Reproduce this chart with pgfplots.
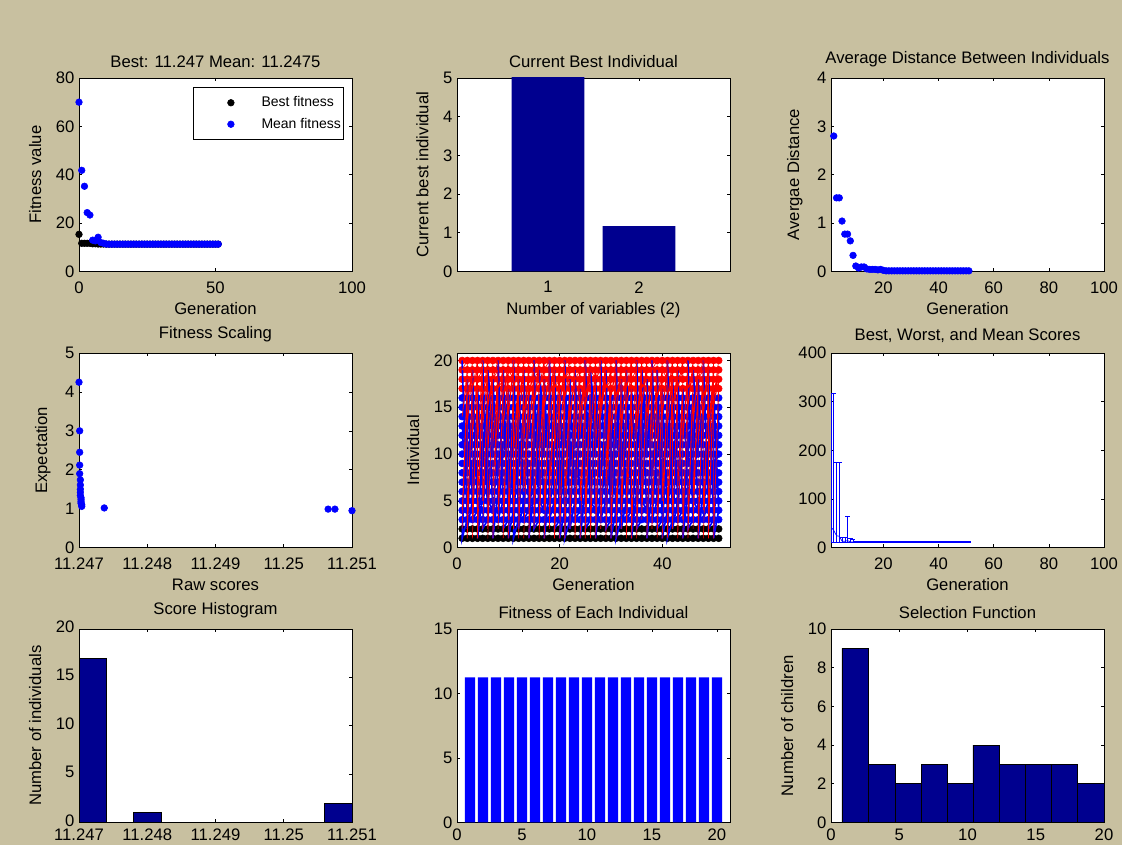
\documentclass[border=0pt]{standalone}
\usepackage{pgfplots}
\usepackage{pgfplotstable}
\pgfplotsset{compat=1.18}
\usepackage{fontspec}
\setmainfont{Liberation Sans}
\definecolor{bg}{RGB}{200,192,160}
\definecolor{navy}{RGB}{0,0,143}
\definecolor{mblue}{RGB}{0,0,255}
\definecolor{mred}{RGB}{255,0,0}
\newcommand{\fs}{\fontsize{12.5}{14.5}\selectfont}
\pgfplotsset{mat/.style={scale only axis, width=204.75pt, height=145pt, anchor=north west,
 axis background/.style={fill=white}, tick align=inside, major tick length=2.5pt, tick pos=both,
 axis line style={black,line width=0.6pt}, every tick/.style={black,line width=0.5pt},
 tick label style={font=\fs}, label style={font=\fs}, title style={font=\fs, yshift=-1.5pt},
 xlabel style={yshift=0pt}, ylabel style={yshift=4pt},
 /pgf/number format/assume math mode=true, scaled ticks=false},
 uprow/.style={xticklabel style={yshift=-4pt}},
 lowrow/.style={xticklabel style={yshift=-1.5pt}},
 dotlegend/.style={legend image code/.code={\path (-27.75pt,0pt) (20.75pt,0pt); \draw[##1] plot coordinates {(0pt,0pt)};}}}

\pgfplotstableread{
g r1 r2 r3 r4 r5 r6 r7 r8 r9 r10 r11 r12 r13 r14 r15 r16 r17 r18 r19 r20
1 1 2 3 4 5 6 7 8 9 10 11 12 13 14 15 16 17 18 19 20
2 1 2 3 4 5 6 7 8 9 10 11 12 13 14 15 16 17 18 19 20
3 1 2 3 4 5 6 7 8 9 10 11 12 13 14 15 16 17 18 19 20
4 1 2 3 4 5 6 7 8 9 10 11 12 13 14 15 16 17 18 19 20
5 1 2 3 4 5 6 7 8 9 10 11 12 13 14 15 16 17 18 19 20
6 1 2 3 4 5 6 7 8 9 10 11 12 13 14 15 16 17 18 19 20
7 1 2 3 4 5 6 7 8 9 10 11 12 13 14 15 16 17 18 19 20
8 1 2 3 4 5 6 7 8 9 10 11 12 13 14 15 16 17 18 19 20
9 1 2 3 4 5 6 7 8 9 10 11 12 13 14 15 16 17 18 19 20
10 1 2 3 4 5 6 7 8 9 10 11 12 13 14 15 16 17 18 19 20
11 1 2 3 4 5 6 7 8 9 10 11 12 13 14 15 16 17 18 19 20
12 1 2 3 4 5 6 7 8 9 10 11 12 13 14 15 16 17 18 19 20
13 1 2 3 4 5 6 7 8 9 10 11 12 13 14 15 16 17 18 19 20
14 1 2 3 4 5 6 7 8 9 10 11 12 13 14 15 16 17 18 19 20
15 1 2 3 4 5 6 7 8 9 10 11 12 13 14 15 16 17 18 19 20
16 1 2 3 4 5 6 7 8 9 10 11 12 13 14 15 16 17 18 19 20
17 1 2 3 4 5 6 7 8 9 10 11 12 13 14 15 16 17 18 19 20
18 1 2 3 4 5 6 7 8 9 10 11 12 13 14 15 16 17 18 19 20
19 1 2 3 4 5 6 7 8 9 10 11 12 13 14 15 16 17 18 19 20
20 1 2 3 4 5 6 7 8 9 10 11 12 13 14 15 16 17 18 19 20
21 1 2 3 4 5 6 7 8 9 10 11 12 13 14 15 16 17 18 19 20
22 1 2 3 4 5 6 7 8 9 10 11 12 13 14 15 16 17 18 19 20
23 1 2 3 4 5 6 7 8 9 10 11 12 13 14 15 16 17 18 19 20
24 1 2 3 4 5 6 7 8 9 10 11 12 13 14 15 16 17 18 19 20
25 1 2 3 4 5 6 7 8 9 10 11 12 13 14 15 16 17 18 19 20
26 1 2 3 4 5 6 7 8 9 10 11 12 13 14 15 16 17 18 19 20
27 1 2 3 4 5 6 7 8 9 10 11 12 13 14 15 16 17 18 19 20
28 1 2 3 4 5 6 7 8 9 10 11 12 13 14 15 16 17 18 19 20
29 1 2 3 4 5 6 7 8 9 10 11 12 13 14 15 16 17 18 19 20
30 1 2 3 4 5 6 7 8 9 10 11 12 13 14 15 16 17 18 19 20
31 1 2 3 4 5 6 7 8 9 10 11 12 13 14 15 16 17 18 19 20
32 1 2 3 4 5 6 7 8 9 10 11 12 13 14 15 16 17 18 19 20
33 1 2 3 4 5 6 7 8 9 10 11 12 13 14 15 16 17 18 19 20
34 1 2 3 4 5 6 7 8 9 10 11 12 13 14 15 16 17 18 19 20
35 1 2 3 4 5 6 7 8 9 10 11 12 13 14 15 16 17 18 19 20
36 1 2 3 4 5 6 7 8 9 10 11 12 13 14 15 16 17 18 19 20
37 1 2 3 4 5 6 7 8 9 10 11 12 13 14 15 16 17 18 19 20
38 1 2 3 4 5 6 7 8 9 10 11 12 13 14 15 16 17 18 19 20
39 1 2 3 4 5 6 7 8 9 10 11 12 13 14 15 16 17 18 19 20
40 1 2 3 4 5 6 7 8 9 10 11 12 13 14 15 16 17 18 19 20
41 1 2 3 4 5 6 7 8 9 10 11 12 13 14 15 16 17 18 19 20
42 1 2 3 4 5 6 7 8 9 10 11 12 13 14 15 16 17 18 19 20
43 1 2 3 4 5 6 7 8 9 10 11 12 13 14 15 16 17 18 19 20
44 1 2 3 4 5 6 7 8 9 10 11 12 13 14 15 16 17 18 19 20
45 1 2 3 4 5 6 7 8 9 10 11 12 13 14 15 16 17 18 19 20
46 1 2 3 4 5 6 7 8 9 10 11 12 13 14 15 16 17 18 19 20
47 1 2 3 4 5 6 7 8 9 10 11 12 13 14 15 16 17 18 19 20
48 1 2 3 4 5 6 7 8 9 10 11 12 13 14 15 16 17 18 19 20
49 1 2 3 4 5 6 7 8 9 10 11 12 13 14 15 16 17 18 19 20
50 1 2 3 4 5 6 7 8 9 10 11 12 13 14 15 16 17 18 19 20
51 1 2 3 4 5 6 7 8 9 10 11 12 13 14 15 16 17 18 19 20
}\gengrid

\begin{document}
\begin{tikzpicture}
\fill[bg] (0,0) rectangle (841.5pt,-633.75pt);

% ---------- Panel 1 ----------
\begin{axis}[mat, uprow, at={(59.25pt,-58.5pt)}, xmin=0, xmax=100, ymin=0, ymax=80,
  xtick={0,50,100}, ytick={0,20,40,60,80},
  title={Best: 11.247 Mean: 11.2475}, xlabel={Generation}, ylabel={Fitness value},
  legend style={at={(0.97,0.953)}, anchor=north east, font=\fontsize{10.5}{12}\selectfont,
    draw=black, fill=white, inner xsep=0pt, inner ysep=5pt, row sep=3pt, cells={anchor=west}}]
\addplot[only marks, mark=*, mark size=2.5pt, black, dotlegend]
 coordinates {(0,15.3) (1,11.6) (2,11.6) (3,11.6) (4,11.6) (5,11.4) (6,11.4) (7,11.3) (8,11.3) (9,11.3)
 (10,11.25) (11,11.25) (12,11.25) (13,11.25) (14,11.25) (15,11.25) (16,11.25) (17,11.25) (18,11.25) (19,11.25)
 (20,11.25) (21,11.25) (22,11.25) (23,11.25) (24,11.25) (25,11.25) (26,11.25) (27,11.25) (28,11.25) (29,11.25)
 (30,11.25) (31,11.25) (32,11.25) (33,11.25) (34,11.25) (35,11.25) (36,11.25) (37,11.25) (38,11.25) (39,11.25)
 (40,11.25) (41,11.25) (42,11.25) (43,11.25) (44,11.25) (45,11.25) (46,11.25) (47,11.25) (48,11.25) (49,11.25)
 (50,11.25) (51,11.25)};
\addlegendentry{Best fitness}
\addplot[only marks, mark=*, mark size=2.5pt, mblue, dotlegend]
 coordinates {(0,70) (1,41.8) (2,35.2) (3,24.3) (4,23.3) (5,12.9) (6,12.6) (7,14.1) (8,11.9) (9,11.6)
 (10,11.3) (11,11.25) (12,11.25) (13,11.25) (14,11.25) (15,11.25) (16,11.25) (17,11.25) (18,11.25) (19,11.25)
 (20,11.25) (21,11.25) (22,11.25) (23,11.25) (24,11.25) (25,11.25) (26,11.25) (27,11.25) (28,11.25) (29,11.25)
 (30,11.25) (31,11.25) (32,11.25) (33,11.25) (34,11.25) (35,11.25) (36,11.25) (37,11.25) (38,11.25) (39,11.25)
 (40,11.25) (41,11.25) (42,11.25) (43,11.25) (44,11.25) (45,11.25) (46,11.25) (47,11.25) (48,11.25) (49,11.25)
 (50,11.25) (51,11.25)};
\addlegendentry{Mean fitness}
\end{axis}

% ---------- Panel 2 ----------
\begin{axis}[mat, uprow, at={(342.75pt,-58.5pt)}, xmin=0, xmax=3, ymin=0, ymax=5,
  xtick={1,2}, ytick={0,1,2,3,4,5},
  title={Current Best Individual}, xlabel={Number of variables (2)}, ylabel={Current best individual}]
\addplot[ybar, bar width=0.8, fill=navy, draw=none] coordinates {(1,5.4) (2,1.17)};
\end{axis}

% ---------- Panel 3 ----------
\begin{axis}[mat, uprow, at={(623.25pt,-58.5pt)}, xmin=1, xmax=100, ymin=0, ymax=4,
  xtick={20,40,60,80,100}, ytick={0,1,2,3,4},
  title={Average Distance Between Individuals}, xlabel={Generation}, ylabel={Avergae Distance}]
\addplot[only marks, mark=*, mark size=2.5pt, mblue] coordinates {
 (2,2.8) (3,1.52) (4,1.52) (5,1.04) (6,0.77) (7,0.77) (8,0.63) (9,0.33) (10,0.11)
 (11,0.07) (12,0.09) (13,0.09) (14,0.05) (15,0.04) (16,0.04) (17,0.04) (18,0.03) (19,0.04) (20,0.02)
 (21,0.01) (22,0.01) (23,0.01) (24,0.01) (25,0.01) (26,0.01) (27,0.01) (28,0.01) (29,0.01) (30,0.01)
 (31,0.01) (32,0.01) (33,0.01) (34,0.01) (35,0.01) (36,0.01) (37,0.01) (38,0.01) (39,0.01) (40,0.01)
 (41,0.01) (42,0.01) (43,0.01) (44,0.01) (45,0.01) (46,0.01) (47,0.01) (48,0.01) (49,0.01) (50,0.01) (51,0.01)};
\end{axis}

% ---------- Panel 4 ----------
\begin{axis}[mat, uprow, at={(59.25pt,-264.75pt)}, height=146pt, xmin=11.247, xmax=11.251, ymin=0, ymax=5,
  xtick={11.247,11.248,11.249,11.25,11.251}, xticklabels={11.247,11.248,11.249,11.25,11.251},
  ytick={0,1,2,3,4,5},
  title={Fitness Scaling}, xlabel={Raw scores}, ylabel={Expectation}]
\addplot[only marks, mark=*, mark size=2.5pt, mblue] coordinates {
 (11.24700,4.25) (11.24701,3.0) (11.24701,2.45) (11.24701,2.12) (11.24701,1.9) (11.24702,1.74)
 (11.24702,1.61) (11.24702,1.5) (11.24702,1.42) (11.24702,1.34) (11.24703,1.28) (11.24703,1.23)
 (11.24703,1.18) (11.24703,1.14) (11.24704,1.10) (11.24704,1.06) (11.24737,1.02)
 (11.25065,0.99) (11.25075,0.99) (11.25100,0.95)};
\end{axis}

% ---------- Panel 5 ----------
\begin{axis}[mat, uprow, at={(342.75pt,-264.75pt)}, height=146pt, xmin=0, xmax=53.2, ymin=0, ymax=20.8,
  xtick={0,20,40}, ytick={0,5,10,15,20}, clip marker paths=true,
  xlabel={Generation}, ylabel={Individual}]
\pgfplotsinvokeforeach{1,2}{\addplot[only marks, mark=*, mark size=2.6pt, black] table[x=g,y=r#1]{\gengrid};}
\pgfplotsinvokeforeach{3,...,16}{\addplot[only marks, mark=*, mark size=2.6pt, mblue] table[x=g,y=r#1]{\gengrid};}
\pgfplotsinvokeforeach{17,...,20}{\addplot[only marks, mark=*, mark size=2.6pt, mred] table[x=g,y=r#1]{\gengrid};}
\addplot[mblue, line width=1.2pt, mark=none] coordinates {
(1,20)(2,3)(1,1)(2,16)(1,12)(2,8) (2,18)(3,5)(2,2)(3,14)(2,9)(3,11) (3,19)(4,4)(3,3)(4,15)(3,7)(4,13)
(4,17)(5,6)(4,1)(5,12)(4,14)(5,9) (5,20)(6,3)(5,2)(6,16)(5,10)(6,7) (6,16)(7,4)(6,5)(7,13)(6,19)(7,10)
(7,18)(8,6)(7,1)(8,15)(7,11)(8,12) (8,20)(9,5)(8,3)(9,11)(8,8)(9,14) (9,19)(10,3)(9,2)(10,16)(9,13)(10,6)
(10,17)(11,4)(10,1)(11,14)(10,6)(11,15) (11,20)(12,3)(11,1)(12,16)(11,12)(12,8) (12,18)(13,5)(12,2)(13,14)(12,9)(13,11)
(13,19)(14,4)(13,3)(14,15)(13,7)(14,13) (14,17)(15,6)(14,1)(15,12)(14,14)(15,9) (15,20)(16,3)(15,2)(16,16)(15,10)(16,7)
(16,16)(17,4)(16,5)(17,13)(16,19)(17,10) (17,18)(18,6)(17,1)(18,15)(17,11)(18,12) (18,20)(19,5)(18,3)(19,11)(18,8)(19,14)
(19,19)(20,3)(19,2)(20,16)(19,13)(20,6) (20,17)(21,4)(20,1)(21,14)(20,6)(21,15) (21,20)(22,3)(21,1)(22,16)(21,12)(22,8)
(22,18)(23,5)(22,2)(23,14)(22,9)(23,11) (23,19)(24,4)(23,3)(24,15)(23,7)(24,13) (24,17)(25,6)(24,1)(25,12)(24,14)(25,9)
(25,20)(26,3)(25,2)(26,16)(25,10)(26,7) (26,16)(27,4)(26,5)(27,13)(26,19)(27,10) (27,18)(28,6)(27,1)(28,15)(27,11)(28,12)
(28,20)(29,5)(28,3)(29,11)(28,8)(29,14) (29,19)(30,3)(29,2)(30,16)(29,13)(30,6) (30,17)(31,4)(30,1)(31,14)(30,6)(31,15)
(31,20)(32,3)(31,1)(32,16)(31,12)(32,8) (32,18)(33,5)(32,2)(33,14)(32,9)(33,11) (33,19)(34,4)(33,3)(34,15)(33,7)(34,13)
(34,17)(35,6)(34,1)(35,12)(34,14)(35,9) (35,20)(36,3)(35,2)(36,16)(35,10)(36,7) (36,16)(37,4)(36,5)(37,13)(36,19)(37,10)
(37,18)(38,6)(37,1)(38,15)(37,11)(38,12) (38,20)(39,5)(38,3)(39,11)(38,8)(39,14) (39,19)(40,3)(39,2)(40,16)(39,13)(40,6)
(40,17)(41,4)(40,1)(41,14)(40,6)(41,15) (41,20)(42,3)(41,1)(42,16)(41,12)(42,8) (42,18)(43,5)(42,2)(43,14)(42,9)(43,11)
(43,19)(44,4)(43,3)(44,15)(43,7)(44,13) (44,17)(45,6)(44,1)(45,12)(44,14)(45,9) (45,20)(46,3)(45,2)(46,16)(45,10)(46,7)
(46,16)(47,4)(46,5)(47,13)(46,19)(47,10) (47,18)(48,6)(47,1)(48,15)(47,11)(48,12) (48,20)(49,5)(48,3)(49,11)(48,8)(49,14)
(49,19)(50,3)(49,2)(50,16)(49,13)(50,6) (50,17)(51,4)(50,1)(51,14)(50,6)(51,15)};
\addplot[mred, line width=0.45pt, mark=none] coordinates {
(1,2)(2,17)(1,4)(2,18)(1,14)(2,19)(1,19)(2,20) (2,1)(3,17)(2,3)(3,18)(2,16)(3,19)(2,13)(3,20)
(3,3)(4,17)(3,1)(4,18)(3,12)(4,19)(3,17)(4,20) (4,1)(5,17)(4,5)(5,18)(4,18)(5,19)(4,11)(5,20)
(5,5)(6,17)(5,2)(6,18)(5,13)(6,19)(5,16)(6,20) (6,2)(7,17)(6,1)(7,18)(6,15)(7,19)(6,10)(7,20)
(7,1)(8,17)(7,6)(8,18)(7,11)(8,19)(7,18)(8,20) (8,4)(9,17)(8,2)(9,18)(8,17)(9,19)(8,12)(9,20)
(9,1)(10,17)(9,3)(10,18)(9,13)(10,19)(9,16)(10,20) (10,3)(11,17)(10,1)(11,18)(10,19)(11,19)(10,14)(11,20)
(11,2)(12,17)(11,5)(12,18)(11,10)(12,19)(11,17)(12,20) (12,1)(13,17)(12,2)(13,18)(12,16)(13,19)(12,13)(13,20)
(13,6)(14,17)(13,1)(14,18)(13,14)(14,19)(13,11)(14,20) (14,1)(15,17)(14,4)(15,18)(14,12)(15,19)(14,16)(15,20)
(15,2)(16,17)(15,3)(16,18)(15,18)(16,19)(15,15)(16,20) (16,1)(17,17)(16,2)(17,18)(16,9)(17,19)(16,17)(17,20)
(17,4)(18,17)(17,1)(18,18)(17,15)(18,19)(17,19)(18,20) (18,2)(19,17)(18,6)(19,18)(18,13)(19,19)(18,16)(19,20)
(19,1)(20,17)(19,2)(20,18)(19,17)(20,19)(19,10)(20,20) (20,3)(21,17)(20,1)(21,18)(20,11)(21,19)(20,15)(21,20)
(21,1)(22,17)(21,5)(22,18)(21,16)(22,19)(21,18)(22,20) (22,2)(23,17)(22,3)(23,18)(22,14)(23,19)(22,13)(23,20)
(23,1)(24,17)(23,2)(24,18)(23,18)(24,19)(23,11)(24,20) (24,5)(25,17)(24,1)(25,18)(24,12)(25,19)(24,14)(25,20)
(25,1)(26,17)(25,4)(26,18)(25,15)(26,19)(25,16)(26,20) (26,2)(27,17)(26,1)(27,18)(26,19)(27,19)(26,12)(27,20)
(27,1)(28,17)(27,3)(28,18)(27,11)(28,19)(27,18)(28,20) (28,3)(29,17)(28,2)(29,18)(28,14)(29,19)(28,15)(29,20)
(29,1)(30,17)(29,6)(30,18)(29,17)(30,19)(29,8)(30,20) (30,2)(31,17)(30,1)(31,18)(30,12)(31,19)(30,16)(31,20)
(31,1)(32,17)(31,3)(32,18)(31,16)(32,19)(31,14)(32,20) (32,4)(33,17)(32,2)(33,18)(32,13)(33,19)(32,12)(33,20)
(33,1)(34,17)(33,5)(34,18)(33,15)(34,19)(33,17)(34,20) (34,2)(35,17)(34,1)(35,18)(34,18)(35,19)(34,11)(35,20)
(35,1)(36,17)(35,2)(36,18)(35,12)(36,19)(35,13)(36,20) (36,3)(37,17)(36,4)(37,18)(36,17)(37,19)(36,15)(37,20)
(37,1)(38,17)(37,1)(38,18)(37,14)(38,19)(37,12)(38,20) (38,2)(39,17)(38,3)(39,18)(38,11)(39,19)(38,19)(39,20)
(39,1)(40,17)(39,2)(40,18)(39,16)(40,19)(39,10)(40,20) (40,5)(41,17)(40,1)(41,18)(40,19)(41,19)(40,14)(41,20)
(41,1)(42,17)(41,4)(42,18)(41,13)(42,19)(41,16)(42,20) (42,2)(43,17)(42,2)(43,18)(42,15)(43,19)(42,12)(43,20)
(43,1)(44,17)(43,6)(44,18)(43,18)(44,19)(43,17)(44,20) (44,3)(45,17)(44,1)(45,18)(44,12)(45,19)(44,11)(45,20)
(45,1)(46,17)(45,3)(46,18)(45,17)(46,19)(45,15)(46,20) (46,2)(47,17)(46,5)(47,18)(46,14)(47,19)(46,13)(47,20)
(47,1)(48,17)(47,2)(48,18)(47,11)(48,19)(47,18)(48,20) (48,4)(49,17)(48,1)(49,18)(48,16)(49,19)(48,14)(49,20)
(49,1)(50,17)(49,3)(50,18)(49,13)(50,19)(49,9)(50,20) (50,2)(51,17)(50,1)(51,18)(50,15)(51,19)(50,16)(51,20)};
\end{axis}

% ---------- Panel 6 ----------
\begin{axis}[mat, uprow, at={(623.25pt,-264.75pt)}, height=146pt, xmin=1, xmax=100, ymin=0, ymax=400,
  xtick={20,40,60,80,100}, ytick={0,100,200,300,400},
  title={Best, Worst, and Mean Scores}, xlabel={Generation}]
\addplot[mblue, line width=0.5pt, mark=none,
  error bars/.cd, y dir=both, y explicit,
  error bar style={mblue, line width=0.4pt},
  error mark options={mblue, rotate=90, mark size=1.7pt, line width=0.6pt}] coordinates {
 (1,42) += (0,274) -= (0,30.5)
 (2,35.5) += (0,280.5) -= (0,24)
 (3,24.5) += (0,151.5) -= (0,13)
 (4,23.5) += (0,152.5) -= (0,12)
 (5,13.5) += (0,8.5) -= (0,2)
 (6,13) += (0,9) -= (0,1.7)
 (7,14.5) += (0,49.5) -= (0,3.2)
 (8,12) += (0,7) -= (0,0.7)
 (9,11.7) += (0,6.3) -= (0,0.4)
 (10,11.25) += (0,1.75) -= (0,0) (11,11.25) += (0,1.75) -= (0,0) (12,11.25) += (0,1.75) -= (0,0)
 (13,11.25) += (0,1.75) -= (0,0) (14,11.25) += (0,1.75) -= (0,0) (15,11.25) += (0,1.75) -= (0,0)
 (16,11.25) += (0,1.75) -= (0,0) (17,11.25) += (0,1.75) -= (0,0) (18,11.25) += (0,1.75) -= (0,0)
 (19,11.25) += (0,1.75) -= (0,0) (20,11.25) += (0,1.75) -= (0,0) (21,11.25) += (0,1.75) -= (0,0)
 (22,11.25) += (0,1.75) -= (0,0) (23,11.25) += (0,1.75) -= (0,0) (24,11.25) += (0,1.75) -= (0,0)
 (25,11.25) += (0,1.75) -= (0,0) (26,11.25) += (0,1.75) -= (0,0) (27,11.25) += (0,1.75) -= (0,0)
 (28,11.25) += (0,1.75) -= (0,0) (29,11.25) += (0,1.75) -= (0,0) (30,11.25) += (0,1.75) -= (0,0)
 (31,11.25) += (0,1.75) -= (0,0) (32,11.25) += (0,1.75) -= (0,0) (33,11.25) += (0,1.75) -= (0,0)
 (34,11.25) += (0,1.75) -= (0,0) (35,11.25) += (0,1.75) -= (0,0) (36,11.25) += (0,1.75) -= (0,0)
 (37,11.25) += (0,1.75) -= (0,0) (38,11.25) += (0,1.75) -= (0,0) (39,11.25) += (0,1.75) -= (0,0)
 (40,11.25) += (0,1.75) -= (0,0) (41,11.25) += (0,1.75) -= (0,0) (42,11.25) += (0,1.75) -= (0,0)
 (43,11.25) += (0,1.75) -= (0,0) (44,11.25) += (0,1.75) -= (0,0) (45,11.25) += (0,1.75) -= (0,0)
 (46,11.25) += (0,1.75) -= (0,0) (47,11.25) += (0,1.75) -= (0,0) (48,11.25) += (0,1.75) -= (0,0)
 (49,11.25) += (0,1.75) -= (0,0) (50,11.25) += (0,1.75) -= (0,0) (51,11.25) += (0,1.75) -= (0,0)};
\end{axis}

% ---------- Panel 7 ----------
\begin{axis}[mat, lowrow, at={(59.25pt,-471.75pt)}, xmin=11.247, xmax=11.251, ymin=0, ymax=20,
  xtick={11.247,11.248,11.249,11.25,11.251}, xticklabels={11.247,11.248,11.249,11.25,11.251},
  ytick={0,5,10,15,20}, yticklabel style={yshift=1.5pt},
  title={Score Histogram}, ylabel={Number of individuals}]
\addplot[fill=navy, draw=black, line width=0.5pt] coordinates {(11.247,0) (11.247,17) (11.2474,17) (11.2474,0)} --cycle;
\addplot[fill=navy, draw=black, line width=0.5pt] coordinates {(11.2478,0) (11.2478,1) (11.2482,1) (11.2482,0)} --cycle;
\addplot[fill=navy, draw=black, line width=0.5pt] coordinates {(11.2506,0) (11.2506,2) (11.251,2) (11.251,0)} --cycle;
\end{axis}

% ---------- Panel 8 ----------
\begin{axis}[mat, lowrow, at={(342.75pt,-471.75pt)}, xmin=0, xmax=21, ymin=0, ymax=15,
  xtick={0,5,10,15,20}, ytick={0,5,10,15},
  title={Fitness of Each Individual}]
\addplot[ybar, bar width=0.8, fill=mblue, draw=none] coordinates {
 (1,11.25) (2,11.25) (3,11.25) (4,11.25) (5,11.25) (6,11.25) (7,11.25) (8,11.25) (9,11.25) (10,11.25)
 (11,11.25) (12,11.25) (13,11.25) (14,11.25) (15,11.25) (16,11.25) (17,11.25) (18,11.25) (19,11.25) (20,11.25)};
\end{axis}

% ---------- Panel 9 ----------
\begin{axis}[mat, lowrow, at={(623.25pt,-471.75pt)}, xmin=0, xmax=20, ymin=0, ymax=10,
  xtick={0,5,10,15,20}, ytick={0,2,4,6,8,10},
  title={Selection Function}, ylabel={Number of children}]
\addplot[ybar interval, fill=navy, draw=black, line width=0.5pt] coordinates {
 (0.8,9) (2.75,3) (4.7,2) (6.6,3) (8.5,2) (10.4,4) (12.3,3) (14.2,3) (16.15,3) (18.05,2) (20,2)};
\end{axis}

\pgfresetboundingbox
\useasboundingbox (0,0) rectangle (841.5pt,-633.75pt);
\end{tikzpicture}
\end{document}
